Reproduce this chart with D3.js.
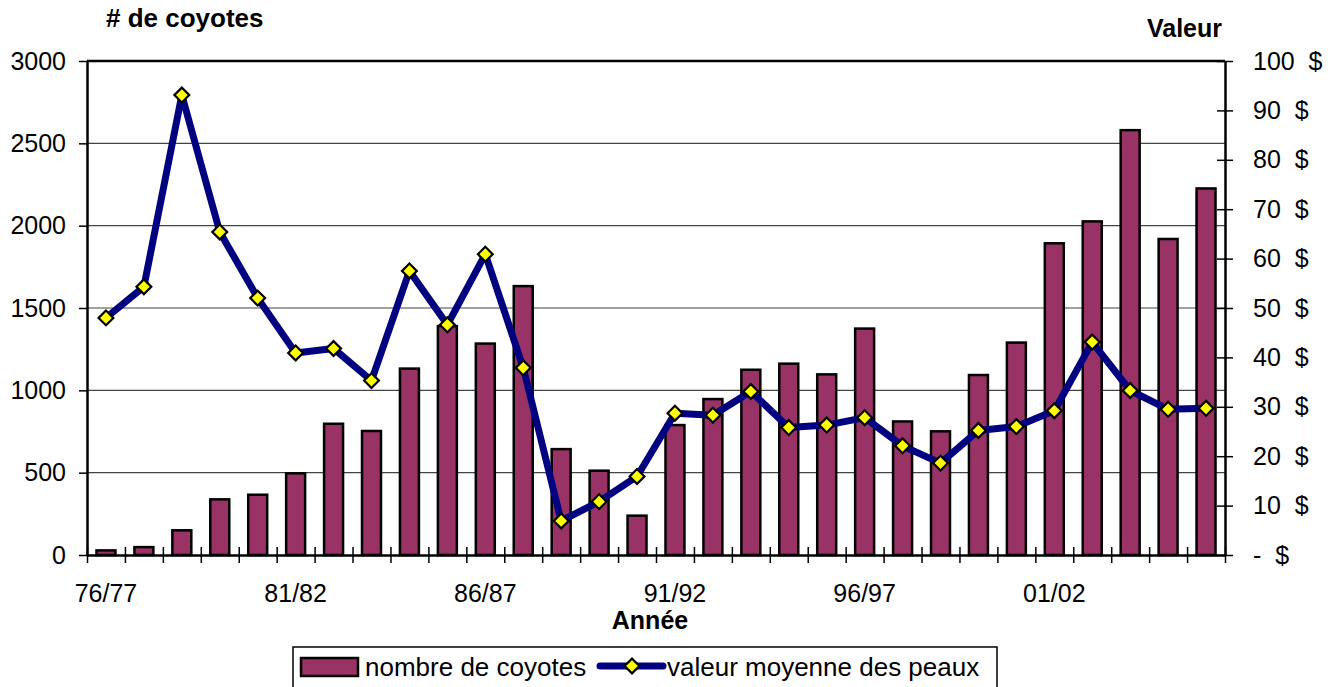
<!DOCTYPE html>
<html>
<head>
<meta charset="utf-8">
<script src="https://cdn.jsdelivr.net/npm/d3@7"></script>
<style>
  body { margin: 0; background: #fff; }
  text { font-family: "Liberation Sans", Arial, sans-serif; fill: #000; }
</style>
</head>
<body>
<svg id="chart" width="1341" height="687"></svg>
<script>
  const seasons = ['76/77', '77/78', '78/79', '79/80', '80/81', '81/82', '82/83', '83/84', '84/85', '85/86',
    '86/87', '87/88', '88/89', '89/90', '90/91', '91/92', '92/93', '93/94', '94/95', '95/96',
    '96/97', '97/98', '98/99', '99/00', '00/01', '01/02', '02/03', '03/04', '04/05', '05/06'];
  const labelledSeasons = ['76/77', '81/82', '86/87', '91/92', '96/97', '01/02'];

  // nombre de coyotes
  const coyoteCounts = [28, 48, 150, 338, 366, 496, 797, 753, 1132, 1390,
    1284, 1633, 643, 512, 239, 789, 947, 1125, 1162, 1097,
    1375, 811, 751, 1093, 1290, 1893, 2026, 2580, 1919, 2226];

  // valeur moyenne des peaux ($)
  const peltValues = [48.0, 54.3, 93.1, 65.4, 52.0, 40.9, 41.8, 35.3, 57.5, 46.6,
    60.9, 37.9, 6.9, 10.8, 15.9, 28.7, 28.3, 33.1, 25.8, 26.3,
    27.8, 22.1, 18.6, 25.2, 26.0, 29.2, 43.1, 33.3, 29.5, 29.7];

  const countTicks = [0, 500, 1000, 1500, 2000, 2500, 3000];
  const valueTicks = [0, 10, 20, 30, 40, 50, 60, 70, 80, 90, 100];

  const margin = { top: 61, right: 116, bottom: 132, left: 87 };
  const width = 1341 - margin.left - margin.right;
  const height = 687 - margin.top - margin.bottom;

  const svg = d3.select('#chart');
  const g = svg.append('g').attr('transform', `translate(${margin.left},${margin.top})`);

  const x = d3.scaleBand().domain(seasons).range([0, width])
    .paddingInner(0.5).paddingOuter(0.25);
  const xEdges = d3.scaleLinear().domain([0, seasons.length]).range([0, width]);
  const yCount = d3.scaleLinear().domain([0, 3000]).range([height, 0]);
  const yValue = d3.scaleLinear().domain([0, 100]).range([height, 0]);

  // gridlines
  g.append('g')
    .selectAll('line')
    .data(countTicks.filter((d) => d > 0 && d < 3000))
    .join('line')
    .attr('x1', 0)
    .attr('x2', width)
    .attr('y1', (d) => yCount(d))
    .attr('y2', (d) => yCount(d))
    .attr('stroke', '#444')
    .attr('stroke-width', 1.2);

  // bars
  g.append('g')
    .selectAll('rect')
    .data(coyoteCounts)
    .join('rect')
    .attr('x', (d, i) => x(seasons[i]))
    .attr('width', x.bandwidth())
    .attr('y', (d) => yCount(d))
    .attr('height', (d) => height - yCount(d))
    .attr('fill', '#993366')
    .attr('stroke', '#000')
    .attr('stroke-width', 2.5);

  // top border of plot area
  g.append('line')
    .attr('x1', 0).attr('x2', width)
    .attr('y1', 0).attr('y2', 0)
    .attr('stroke', '#000')
    .attr('stroke-width', 2.5);

  // left axis
  const leftAxis = g.append('g')
    .call(d3.axisLeft(yCount).tickValues(countTicks).tickSize(8).tickSizeOuter(0).tickPadding(13)
      .tickFormat(d3.format('d')))
    .style('font-size', '25px');
  leftAxis.select('.domain').attr('stroke-width', 2.5);
  leftAxis.selectAll('.tick line').attr('stroke-width', 1.5);

  // right axis
  const rightAxis = g.append('g')
    .attr('transform', `translate(${width},0)`)
    .call(d3.axisRight(yValue).tickValues(valueTicks).tickSize(8).tickSizeOuter(0).tickPadding(20)
      .tickFormat((d) => (d === 0 ? '-  $' : `${d}  $`)))
    .style('font-size', '25px');
  rightAxis.select('.domain').attr('stroke-width', 2.5);
  rightAxis.selectAll('.tick line').attr('x1', -8).attr('stroke-width', 1.5);
  rightAxis.selectAll('.tick text').style('white-space', 'pre').attr('xml:space', 'preserve');

  // bottom axis: tick marks at category edges
  const bottomTicks = g.append('g')
    .attr('transform', `translate(0,${height})`)
    .call(d3.axisBottom(xEdges).tickValues(d3.range(seasons.length + 1)).tickSize(8)
      .tickSizeOuter(0).tickFormat(''));
  bottomTicks.select('.domain').attr('stroke-width', 2.5);
  bottomTicks.selectAll('.tick line').attr('y1', -8).attr('stroke-width', 1.5);

  // bottom axis labels
  const bottomLabels = g.append('g')
    .attr('transform', `translate(0,${height})`)
    .call(d3.axisBottom(x).tickValues(labelledSeasons).tickSize(0).tickPadding(29))
    .style('font-size', '25px');
  bottomLabels.select('.domain').remove();

  // line series
  const line = d3.line()
    .x((d, i) => x(seasons[i]) + x.bandwidth() / 2)
    .y((d) => yValue(d));

  g.append('path')
    .datum(peltValues)
    .attr('d', line)
    .attr('fill', 'none')
    .attr('stroke', '#000080')
    .attr('stroke-width', 7)
    .attr('stroke-linejoin', 'round');

  const diamond = d3.symbol().type(d3.symbolSquare).size(110);

  g.append('g')
    .selectAll('path')
    .data(peltValues)
    .join('path')
    .attr('d', diamond)
    .attr('transform', (d, i) => `translate(${x(seasons[i]) + x.bandwidth() / 2},${yValue(d)}) rotate(45)`)
    .attr('fill', '#ffff00')
    .attr('stroke', '#000')
    .attr('stroke-width', 2.2);

  // axis titles
  svg.append('text')
    .attr('x', 106).attr('y', 27)
    .style('font-size', '26px').style('font-weight', 'bold')
    .text('# de coyotes');

  svg.append('text')
    .attr('x', 1222).attr('y', 37)
    .attr('text-anchor', 'end')
    .style('font-size', '25px').style('font-weight', 'bold')
    .text('Valeur');

  svg.append('text')
    .attr('x', 650).attr('y', 629)
    .attr('text-anchor', 'middle')
    .style('font-size', '25px').style('font-weight', 'bold')
    .text('Année');

  // legend
  const legend = svg.append('g');
  legend.append('rect')
    .attr('x', 293).attr('y', 647)
    .attr('width', 704).attr('height', 60)
    .attr('fill', '#fff')
    .attr('stroke', '#000')
    .attr('stroke-width', 1.5);

  legend.append('rect')
    .attr('x', 301).attr('y', 658)
    .attr('width', 57).attr('height', 18)
    .attr('fill', '#993366')
    .attr('stroke', '#000')
    .attr('stroke-width', 2.5);

  legend.append('text')
    .attr('x', 365).attr('y', 676)
    .style('font-size', '26px')
    .text('nombre de coyotes');

  legend.append('line')
    .attr('x1', 600).attr('x2', 663)
    .attr('y1', 666).attr('y2', 666)
    .attr('stroke', '#000080')
    .attr('stroke-width', 7)
    .attr('stroke-linecap', 'round');

  legend.append('path')
    .attr('d', diamond)
    .attr('transform', 'translate(632,666) rotate(45)')
    .attr('fill', '#ffff00')
    .attr('stroke', '#000')
    .attr('stroke-width', 2.2);

  legend.append('text')
    .attr('x', 667).attr('y', 676)
    .style('font-size', '26px')
    .text('valeur moyenne des peaux');
</script>
</body>
</html>
